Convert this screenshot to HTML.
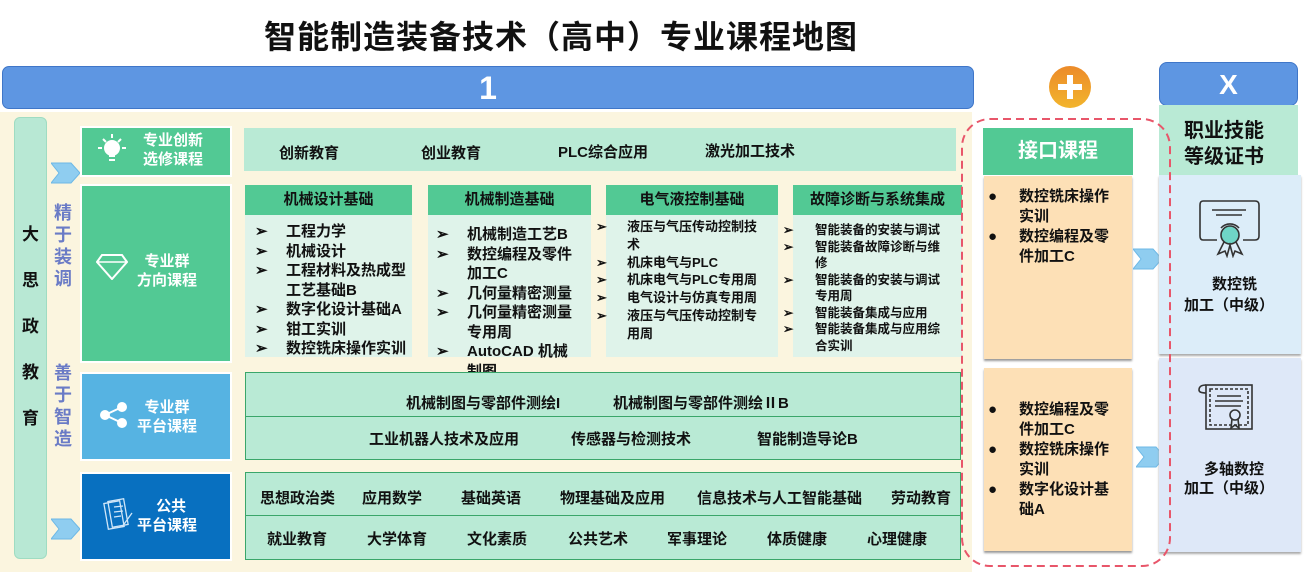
<!DOCTYPE html>
<html><head><meta charset="utf-8">
<style>
*{margin:0;padding:0;box-sizing:border-box}
body{width:1307px;height:586px;background:#fff;position:relative;overflow:hidden;font-family:"Liberation Sans","Noto Sans CJK SC",sans-serif;font-weight:bold;color:#111}
.a{position:absolute}
.t{position:absolute;white-space:nowrap}
.chev{position:absolute;width:30px;height:22px}
.col{position:absolute;top:185px;height:172px;background:#dff3ea}
.hd{position:absolute;left:0;right:0;top:0;height:30px;background:#52c994;text-align:center;line-height:30px;font-size:15px}
.ls{position:absolute}
.ls div{position:relative;white-space:nowrap}
.ls div b{position:absolute;font-weight:bold}
</style></head><body>
<div class="t" style="left:264px;top:12px;font-size:32px;letter-spacing:1px">智能制造装备技术（高中）专业课程地图</div>
<div class="a" style="left:2px;top:66px;width:972px;height:43px;background:#5e96e2;border:1px solid #3f76c8;border-radius:7px;color:#fff;font-size:32px;text-align:center;line-height:43px">1</div>
<div class="a" style="left:0;top:112px;width:972px;height:460px;background:#fbf5df"></div>
<div class="a" style="left:14px;top:117px;width:33px;height:442px;background:#b8e8d4;border-radius:6px;border:1px solid #9fdcc2"></div>
<div class="t" style="left:22px;top:212px;font-size:17px;line-height:46px;white-space:normal;width:18px">大思政教育</div>
<div class="t" style="left:54px;top:202px;font-size:18px;line-height:22px;white-space:normal;width:20px;color:#6a7bc6">精于装调</div>
<div class="t" style="left:54px;top:362px;font-size:18px;line-height:22px;white-space:normal;width:20px;color:#6a7bc6">善于智造</div>
<svg class="chev" style="left:51px;top:162px"><polygon points="0,1 20,1 29,11 20,21 0,21 8,11" fill="#8fcdf0" stroke="#6cb8e6"/></svg>
<svg class="chev" style="left:51px;top:518px"><polygon points="0,1 20,1 29,11 20,21 0,21 8,11" fill="#8fcdf0" stroke="#6cb8e6"/></svg>

<div class="a" style="left:80px;top:126px;width:152px;height:51px;background:#52c994;border:2px solid #fff"></div>
<div class="t" style="left:143px;top:131px;font-size:15px;line-height:19px;color:#fff">专业创新<br>选修课程</div>
<svg class="a" style="left:95px;top:134px" width="34" height="32"><g stroke="#fff" stroke-width="2" fill="none"><circle cx="17" cy="14" r="7" fill="#fff"/><line x1="14" y1="22" x2="20" y2="22"/><line x1="14" y1="26" x2="20" y2="26"/><line x1="3" y1="14" x2="7" y2="14"/><line x1="27" y1="14" x2="31" y2="14"/><line x1="8" y1="5" x2="11" y2="8"/><line x1="26" y1="5" x2="23" y2="8"/><line x1="17" y1="0" x2="17" y2="4"/></g></svg>

<div class="a" style="left:80px;top:184px;width:152px;height:179px;background:#52c994;border:2px solid #fff"></div>
<div class="t" style="left:137px;top:252px;font-size:15px;line-height:19px;color:#fff;text-align:center">专业群<br>方向课程</div>
<svg class="a" style="left:96px;top:254px" width="32" height="26"><polygon points="6,1 26,1 31,8 16,25 1,8" fill="none" stroke="#fff" stroke-width="2"/><line x1="1" y1="8" x2="31" y2="8" stroke="#fff" stroke-width="1.5"/></svg>

<div class="a" style="left:80px;top:372px;width:152px;height:89px;background:#56b3e2;border:2px solid #fff"></div>
<div class="t" style="left:137px;top:398px;font-size:15px;line-height:19px;color:#fff;text-align:center">专业群<br>平台课程</div>
<svg class="a" style="left:100px;top:402px" width="28" height="26"><g fill="#fff" stroke="#fff" stroke-width="2"><circle cx="5" cy="13" r="4"/><circle cx="22" cy="5" r="4"/><circle cx="22" cy="21" r="4"/><line x1="5" y1="13" x2="22" y2="5"/><line x1="5" y1="13" x2="22" y2="21"/></g></svg>

<div class="a" style="left:80px;top:472px;width:152px;height:89px;background:#0870c0;border:2px solid #fff"></div>
<div class="t" style="left:137px;top:497px;font-size:15px;line-height:19px;color:#fff;text-align:center">&nbsp;&nbsp;公共<br>平台课程</div>
<svg class="a" style="left:102px;top:497px" width="32" height="36"><g fill="none" stroke="#cfe6f8" stroke-width="1.3"><rect x="4" y="5" width="16" height="26" transform="rotate(-10 12 18)"/><rect x="8" y="3" width="16" height="26" transform="rotate(-10 16 16)"/><line x1="12" y1="10" x2="21" y2="9"/><line x1="12" y1="15" x2="21" y2="14"/><line x1="12" y1="20" x2="19" y2="19"/><line x1="20" y1="30" x2="30" y2="16"/></g></svg>

<div class="a" style="left:244px;top:128px;width:712px;height:43px;background:#b9ead5"></div>
<div class="t" style="left:279px;top:142px;font-size:15px">创新教育</div>
<div class="t" style="left:421px;top:142px;font-size:15px">创业教育</div>
<div class="t" style="left:558px;top:141px;font-size:15px">PLC综合应用</div>
<div class="t" style="left:705px;top:140px;font-size:15px">激光加工技术</div>

<div class="col" style="left:245px;width:167px"><div class="hd">机械设计基础</div>
<div class="ls" style="left:10px;top:37px;font-size:15px;line-height:19.5px">
<div style="padding-left:31px"><b style="left:0">➢</b>工程力学</div>
<div style="padding-left:31px"><b style="left:0">➢</b>机械设计</div>
<div style="padding-left:31px"><b style="left:0">➢</b>工程材料及热成型<br>工艺基础B</div>
<div style="padding-left:31px"><b style="left:0">➢</b>数字化设计基础A</div>
<div style="padding-left:31px"><b style="left:0">➢</b>钳工实训</div>
<div style="padding-left:31px"><b style="left:0">➢</b>数控铣床操作实训</div></div></div>
<div class="col" style="left:428px;width:163px"><div class="hd">机械制造基础</div>
<div class="ls" style="left:8px;top:40px;font-size:15px;line-height:19.5px">
<div style="padding-left:31px"><b style="left:0">➢</b>机械制造工艺B</div>
<div style="padding-left:31px"><b style="left:0">➢</b>数控编程及零件<br>加工C</div>
<div style="padding-left:31px"><b style="left:0">➢</b>几何量精密测量</div>
<div style="padding-left:31px"><b style="left:0">➢</b>几何量精密测量<br>专用周</div>
<div style="padding-left:31px"><b style="left:0">➢</b>AutoCAD 机械<br>制图</div></div></div>
<div class="col" style="left:606px;width:172px"><div class="hd">电气液控制基础</div>
<div class="ls" style="left:-10px;top:33px;font-size:13px;line-height:17.8px">
<div style="padding-left:31px"><b style="left:0">➢</b>液压与气压传动控制技<br>术</div>
<div style="padding-left:31px"><b style="left:0">➢</b>机床电气与PLC</div>
<div style="padding-left:31px"><b style="left:0">➢</b>机床电气与PLC专用周</div>
<div style="padding-left:31px"><b style="left:0">➢</b>电气设计与仿真专用周</div>
<div style="padding-left:31px"><b style="left:0">➢</b>液压与气压传动控制专<br>用周</div></div></div>
<div class="col" style="left:793px;width:169px"><div class="hd">故障诊断与系统集成</div>
<div class="ls" style="left:-10px;top:37px;font-size:12.5px;line-height:16.5px">
<div style="padding-left:32px"><b style="left:0">➢</b>智能装备的安装与调试</div>
<div style="padding-left:32px"><b style="left:0">➢</b>智能装备故障诊断与维<br>修</div>
<div style="padding-left:32px"><b style="left:0">➢</b>智能装备的安装与调试<br>专用周</div>
<div style="padding-left:32px"><b style="left:0">➢</b>智能装备集成与应用</div>
<div style="padding-left:32px"><b style="left:0">➢</b>智能装备集成与应用综<br>合实训</div></div></div>

<div class="a" style="left:245px;top:372px;width:716px;height:88px;background:#b9ead5;border:1px solid #3aa66a"></div>
<div class="a" style="left:245px;top:416px;width:716px;height:1px;background:#3aa66a"></div>
<div class="t" style="left:406px;top:392px;font-size:15px">机械制图与零部件测绘I</div>
<div class="t" style="left:613px;top:392px;font-size:15px">机械制图与零部件测绘ⅡB</div>
<div class="t" style="left:369px;top:428px;font-size:15px">工业机器人技术及应用</div>
<div class="t" style="left:571px;top:428px;font-size:15px">传感器与检测技术</div>
<div class="t" style="left:757px;top:428px;font-size:15px">智能制造导论B</div>

<div class="a" style="left:245px;top:472px;width:716px;height:88px;background:#b9ead5;border:1px solid #3aa66a"></div>
<div class="a" style="left:245px;top:515px;width:716px;height:1px;background:#3aa66a"></div>
<div class="t" style="left:260px;top:487px;font-size:15px">思想政治类</div>
<div class="t" style="left:362px;top:487px;font-size:15px">应用数学</div>
<div class="t" style="left:461px;top:487px;font-size:15px">基础英语</div>
<div class="t" style="left:560px;top:487px;font-size:15px">物理基础及应用</div>
<div class="t" style="left:697px;top:487px;font-size:15px">信息技术与人工智能基础</div>
<div class="t" style="left:891px;top:487px;font-size:15px">劳动教育</div>
<div class="t" style="left:267px;top:528px;font-size:15px">就业教育</div>
<div class="t" style="left:367px;top:528px;font-size:15px">大学体育</div>
<div class="t" style="left:467px;top:528px;font-size:15px">文化素质</div>
<div class="t" style="left:568px;top:528px;font-size:15px">公共艺术</div>
<div class="t" style="left:667px;top:528px;font-size:15px">军事理论</div>
<div class="t" style="left:767px;top:528px;font-size:15px">体质健康</div>
<div class="t" style="left:867px;top:528px;font-size:15px">心理健康</div>

<svg class="a" style="left:1048px;top:65px" width="44" height="44"><defs><linearGradient id="g" x1="0" y1="0" x2="0" y2="1"><stop offset="0" stop-color="#ec8a2a"/><stop offset="1" stop-color="#f2b42c"/></linearGradient></defs><circle cx="22" cy="22" r="21" fill="url(#g)"/><rect x="19" y="10" width="6" height="24" fill="#fff"/><rect x="10" y="19" width="24" height="6" fill="#fff"/></svg>

<div class="a" style="left:983px;top:128px;width:150px;height:47px;background:#52c994;color:#fff;font-size:20px;text-align:center;line-height:47px">接口课程</div>
<div class="a" style="left:984px;top:176px;width:148px;height:183px;background:#fde0b6;box-shadow:0 2px 2px #999"></div>
<div class="ls" style="left:988px;top:187px;font-size:15px;line-height:20px">
<div style="padding-left:31px"><b style="left:0">●</b>数控铣床操作<br>实训</div>
<div style="padding-left:31px"><b style="left:0">●</b>数控编程及零<br>件加工C</div></div>
<div class="a" style="left:984px;top:368px;width:148px;height:183px;background:#fde0b6;box-shadow:0 2px 2px #999"></div>
<div class="ls" style="left:988px;top:400px;font-size:15px;line-height:20px">
<div style="padding-left:31px"><b style="left:0">●</b>数控编程及零<br>件加工C</div>
<div style="padding-left:31px"><b style="left:0">●</b>数控铣床操作<br>实训</div>
<div style="padding-left:31px"><b style="left:0">●</b>数字化设计基<br>础A</div></div>
<svg class="chev" style="left:1133px;top:248px"><polygon points="0,1 20,1 29,11 20,21 0,21 8,11" fill="#8fcdf0" stroke="#6cb8e6"/></svg>
<svg class="chev" style="left:1136px;top:446px"><polygon points="0,1 20,1 29,11 20,21 0,21 8,11" fill="#8fcdf0" stroke="#6cb8e6"/></svg>

<div class="a" style="left:1159px;top:62px;width:139px;height:44px;background:#5e96e2;border:1px solid #3f76c8;border-radius:8px;color:#fff;font-size:28px;text-align:center;line-height:44px">X</div>
<div class="a" style="left:1159px;top:105px;width:139px;height:72px;background:#b9ead5"></div>
<div class="t" style="left:1184px;top:118px;font-size:20px;line-height:26px">职业技能<br>等级证书</div>
<div class="a" style="left:1159px;top:175px;width:142px;height:179px;background:#dcedf9;box-shadow:0 2px 2px #aaa"></div>
<svg class="a" style="left:1199px;top:200px" width="62" height="58"><g fill="none" stroke="#333" stroke-width="1.6"><path d="M4,1 H56 Q60,1 60,5 V36 Q60,40 56,40 H44 M18,40 H4 Q1,40 1,36 V5 Q1,1 4,1"/><line x1="13" y1="10" x2="47" y2="10"/><line x1="17" y1="15" x2="43" y2="15"/><circle cx="31" cy="35" r="9" fill="#6fd5c6"/><path d="M25,42 L19,54 L26,51 L28,56 L31,45 L34,56 L36,51 L43,54 L37,42"/><path d="M22,28 A12 12 0 0 1 40 28"/></g></svg>
<div class="t" style="left:1212px;top:273px;font-size:15px">数控铣</div>
<div class="t" style="left:1184px;top:294px;font-size:15px">加工（中级）</div>
<div class="a" style="left:1159px;top:358px;width:142px;height:194px;background:#dee8f8;box-shadow:0 2px 2px #aaa"></div>
<svg class="a" style="left:1197px;top:382px" width="60" height="56"><g fill="none" stroke="#333" stroke-width="1.6"><rect x="9" y="3" width="46" height="44"/><path d="M9,3 Q2,3 2,8 Q2,11 9,11"/><rect x="13" y="7" width="38" height="36" stroke-dasharray="3,2"/><line x1="20" y1="14" x2="44" y2="14"/><line x1="18" y1="19" x2="46" y2="19"/><line x1="18" y1="24" x2="44" y2="24"/><circle cx="38" cy="33" r="5"/><path d="M35,37 L34,46 L38,43 L42,46 L41,37"/></g></svg>
<div class="t" style="left:1204px;top:458px;font-size:15px">多轴数控</div>
<div class="t" style="left:1184px;top:477px;font-size:15px">加工（中级）</div>

<svg class="a" style="left:960px;top:117px" width="214" height="452"><rect x="2" y="2" width="208" height="447" rx="28" fill="none" stroke="#e8566a" stroke-width="2" stroke-dasharray="8,5"/></svg>
</body></html>
